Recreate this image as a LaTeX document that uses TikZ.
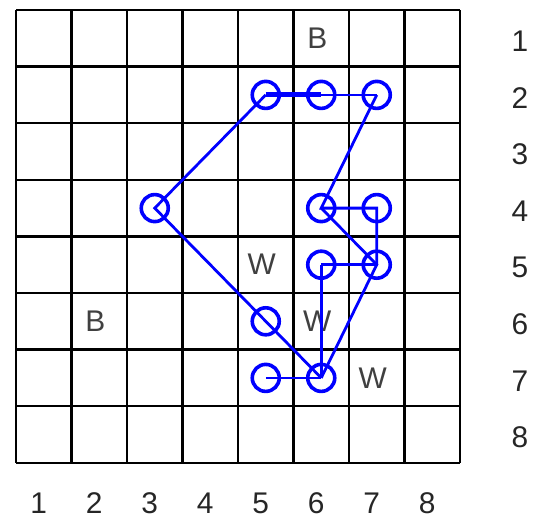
\documentclass[tikz,border=0pt]{standalone}
\usepackage{fontspec}
\setmainfont{Liberation Sans}
\begin{document}
\begin{tikzpicture}[
		x=55.5bp, y=56.6bp,
		cell/.style={draw=none, font=\fontsize{30}{32}\selectfont, text=black!75, inner sep=0pt, xshift=-4bp},
		num/.style={draw=none, font=\fontsize{30}{32}\selectfont, text=black!85, inner sep=0pt},
		stone/.style={circle, draw=blue, line width=3.6bp, minimum size=27bp, inner sep=0pt},
		link/.style={draw=blue, line width=2.8bp},
		]
		\useasboundingbox (-16bp,10bp) rectangle (524bp,-514bp);
		% board
		\foreach \i in {0,...,8} {
			\draw[line width=2.5bp] (\i,0) -- (\i,-8);
			\draw[line width=2.5bp] (0,-\i) -- (8,-\i);
		}
		\foreach \i in {1,...,8} {
			\node[num] (col\i) at (\i-0.59,-8.71) {\i};
			\node[num] (row\i) at (9.08,-\i+0.45) {\i};
		}
		% letters on the board
		\node[cell] (b61) at (5.5,-0.5) {B};
		\node[cell] (w55) at (4.5,-4.5) {W};
		\node[cell] (b26) at (1.5,-5.5) {B};
		\node[cell] (w66) at (5.5,-5.5) {W};
		\node[cell] (w77) at (6.5,-6.5) {W};
		% stones
		\foreach \c/\r in {5/2,6/2,7/2,3/4,6/4,7/4,6/5,7/5,5/6,5/7,6/7}
			\node[stone] (s\c\r) at (\c-0.5,-\r+0.5) {};
		% links
		\draw[link, line width=5bp] (s52.center) -- (s62.center);
		\draw[link] (s62.center) -- (s72.center);
		\draw[link] (s52.center) -- (s34.center) -- (s56.center) -- (s67.center);
		\draw[link] (s72.center) -- (s64.center) -- (s74.center) -- (s75.center);
		\draw[link] (s64.center) -- (s75.center) -- (s67.center);
		\draw[link] (s65.center) -- (s75.center);
		\draw[link] (s65.center) -- (s67.center);
		\draw[link] (s57.center) -- (s67.center);
	\end{tikzpicture}
\end{document}
